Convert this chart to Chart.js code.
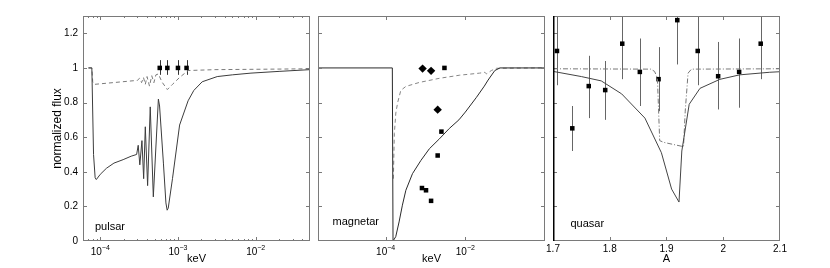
<!DOCTYPE html>
<html><head><meta charset="utf-8">
<script src="https://cdn.jsdelivr.net/npm/chart.js@4/dist/chart.umd.min.js"></script>
<style>
html,body{margin:0;padding:0;background:#fff;width:830px;height:268px;overflow:hidden}
canvas{position:absolute;top:0}
</style></head><body>
<canvas id="c1" width="316" height="268" style="left:0px"></canvas>
<canvas id="c2" width="240" height="268" style="left:312px"></canvas>
<canvas id="c3" width="290" height="268" style="left:540px"></canvas>
<script>
// ---------- data ----------
const fluxTicks = [0, 0.2, 0.4, 0.6, 0.8, 1, 1.2];
const fluxTickLabels = ['0', '0.2', '0.4', '0.6', '0.8', '1', '1.2'];

// pulsar
const pulsarTickValues = [1e-4, 1e-3, 1e-2];
const pulsarTickBase = ['10', '10', '10'];
const pulsarTickExp = ['−4', '−3', '−2'];
const pulsarSolidE = [7.05e-5, 7.8e-5, 8.2e-5, 8.6e-5, 8.9e-5, 1.0e-4, 1.2e-4, 1.5e-4, 1.97e-4, 2.5e-4, 2.94e-4, 3.08e-4, 3.23e-4, 3.44e-4, 3.62e-4, 3.80e-4, 4.07e-4, 4.40e-4, 4.82e-4, 5.6e-4, 5.8e-4, 6.5e-4, 7.0e-4, 7.26e-4, 7.5e-4, 8.5e-4, 1.05e-3, 1.35e-3, 1.6e-3, 2.05e-3, 3.2e-3, 5e-3, 8.7e-3, 2e-2, 5e-2];
const pulsarSolidF = [1.0, 1.0, 0.5, 0.365, 0.355, 0.385, 0.42, 0.45, 0.47, 0.49, 0.50, 0.553, 0.44, 0.58, 0.36, 0.66, 0.32, 0.775, 0.255, 0.82, 0.78, 0.45, 0.22, 0.178, 0.19, 0.36, 0.67, 0.81, 0.87, 0.92, 0.95, 0.96, 0.97, 0.98, 0.99];
const pulsarDashE = [7.05e-5, 7.8e-5, 8.0e-5, 8.4e-5, 3.0e-4, 3.2e-4, 3.4e-4, 3.6e-4, 3.8e-4, 4.0e-4, 4.3e-4, 4.6e-4, 4.9e-4, 5.2e-4, 5.6e-4, 6.2e-4, 7.3e-4, 8.5e-4, 1.05e-3, 1.35e-3, 3e-3, 5e-2];
const pulsarDashF = [1.0, 1.0, 0.92, 0.905, 0.928, 0.94, 0.915, 0.945, 0.905, 0.95, 0.895, 0.955, 0.915, 0.96, 0.965, 0.92, 0.875, 0.905, 0.945, 0.985, 0.99, 0.995];
const pulsarObsE = [5.83e-4, 7.3e-4, 1.0e-3, 1.29e-3];
const pulsarObsF = [1, 1, 1, 1];
const pulsarObsLo = [0.96, 0.96, 0.96, 0.96];
const pulsarObsHi = [1.045, 1.045, 1.045, 1.045];

// magnetar
const magnetarTickValues = [1e-4, 1e-2];
const magnetarTickBase = ['10', '10'];
const magnetarTickExp = ['−4', '−2'];
const magnetarSolidE = [2e-6, 1.47e-4, 1.53e-4, 1.79e-4, 2.17e-4, 2.63e-4, 3.21e-4, 4.71e-4, 7.69e-4, 1.25e-3, 2.23e-3, 3.95e-3, 6.9e-3, 1.0e-2, 1.9e-2, 3.0e-2, 3.73e-2, 5.5e-2, 7.4e-2, 1];
const magnetarSolidF = [1, 1, 0, 0.025, 0.11, 0.207, 0.293, 0.389, 0.466, 0.533, 0.59, 0.65, 0.70, 0.745, 0.83, 0.895, 0.93, 0.985, 1.0, 1.0];
const magnetarDashE = [1.56e-4, 1.65e-4, 1.8e-4, 2.0e-4, 2.4e-4, 3.2e-4, 6.97e-4, 2.23e-3, 7.2e-3, 2.3e-2, 3.1e-2, 3.4e-2, 4.5e-2, 6.1e-2, 1];
const magnetarDashF = [0.36, 0.62, 0.74, 0.80, 0.87, 0.893, 0.916, 0.94, 0.958, 0.97, 0.975, 0.965, 0.985, 0.998, 1.0];
const magnetarDiamondE = [8.45e-4, 1.38e-3, 2.02e-3];
const magnetarDiamondF = [0.996, 0.983, 0.759];
const magnetarSquareE = [2.99e-3, 2.51e-3, 2.02e-3, 8.15e-4, 1.03e-3, 1.38e-3];
const magnetarSquareF = [1.0, 0.632, 0.494, 0.306, 0.293, 0.232];

// quasar
const quasarTickValues = [1.7, 1.8, 1.9, 2.0, 2.1];
const quasarTickLabels = ['1.7', '1.8', '1.9', '2', '2.1'];
const quasarSolidA = [1.70, 1.75, 1.785, 1.821, 1.862, 1.891, 1.909, 1.922, 1.927, 1.94, 1.959, 1.994, 2.029, 2.082, 2.10];
const quasarSolidF = [0.98, 0.95, 0.925, 0.85, 0.71, 0.51, 0.30, 0.225, 0.52, 0.79, 0.882, 0.934, 0.96, 0.975, 0.978];
const quasarDashA = [1.70, 1.872, 1.879, 1.884, 1.888, 1.895, 1.93, 1.933, 1.938, 1.944, 2.10];
const quasarDashF = [0.995, 0.993, 0.98, 0.94, 0.58, 0.57, 0.545, 0.75, 0.97, 0.993, 0.995];
const quasarObsA = [1.707, 1.734, 1.763, 1.792, 1.822, 1.853, 1.886, 1.919, 1.955, 1.991, 2.028, 2.066];
const quasarObsF = [1.098, 0.651, 0.895, 0.872, 1.14, 0.977, 0.935, 1.276, 1.098, 0.952, 0.977, 1.14];
const quasarObsLo = [0.90, 0.52, 0.71, 0.70, 0.935, 0.78, 0.75, 1.02, 0.90, 0.76, 0.77, 0.935];
const quasarObsHi = [1.30, 0.78, 1.07, 1.04, 1.35, 1.17, 1.12, 1.53, 1.30, 1.15, 1.17, 1.35];

// ---------- helpers ----------
const FONT = "'Liberation Sans', Arial, sans-serif";
const xy = (xs, ys) => xs.map((v, i) => ({x: v, y: ys[i]}));

function logTicks(min, max, majors, withMinor) {
  const out = [];
  for (let e = Math.floor(Math.log10(min)); e <= Math.ceil(Math.log10(max)); e++) {
    for (let m = 1; m <= 9; m++) {
      const v = m * Math.pow(10, e);
      if (v < min * 0.999 || v > max * 1.001) continue;
      const isMajor = majors.some(t => Math.abs(t - v) / t < 1e-6);
      if (isMajor || (withMinor && m > 1)) out.push({value: v, major: isMajor});
    }
  }
  return out;
}
function labelFor(values, labels, v) {
  for (let i = 0; i < values.length; i++) if (Math.abs(values[i] - v) <= Math.abs(values[i]) * 1e-6 + 1e-9) return labels[i];
  return '';
}

const framePlugin = {
  id: 'frame',
  afterDatasetsDraw(chart, args, o) {
    const {ctx, chartArea: a} = chart;
    const x = chart.scales.x, y = chart.scales.y;
    ctx.save();
    ctx.strokeStyle = '#7a7a7a';
    ctx.lineWidth = 1;
    ctx.beginPath();
    x.ticks.forEach(t => {
      const px = Math.round(x.getPixelForValue(t.value)) + 0.5;
      if (px < a.left + 1 || px > a.right - 1) return;
      const len = (t.major === false) ? 2 : 4;
      ctx.moveTo(px, a.bottom); ctx.lineTo(px, a.bottom - len);
      ctx.moveTo(px, a.top); ctx.lineTo(px, a.top + len);
    });
    y.ticks.forEach(t => {
      const py = Math.round(y.getPixelForValue(t.value)) + 0.5;
      if (py < a.top + 1 || py > a.bottom - 1) return;
      ctx.moveTo(a.left, py); ctx.lineTo(a.left + 4, py);
      ctx.moveTo(a.right, py); ctx.lineTo(a.right - 4, py);
    });
    ctx.stroke();
    ctx.strokeRect(a.left + 0.5, a.top + 0.5, a.width - 1, a.height - 1);
    if (o.blackLeft) {
      ctx.strokeStyle = '#000';
      ctx.lineWidth = 1.5;
      ctx.beginPath(); ctx.moveTo(a.left + 0.75, a.top); ctx.lineTo(a.left + 0.75, a.bottom); ctx.stroke();
    }
    ctx.fillStyle = '#000';
    // power-of-ten tick labels (base + superscript exponent)
    if (o.supValues) {
      o.supValues.forEach((v, i) => {
        const px = x.getPixelForValue(v);
        ctx.font = '10px ' + FONT;
        const wb = ctx.measureText(o.supBase[i]).width;
        ctx.font = '7px ' + FONT;
        const we = ctx.measureText(o.supExp[i]).width;
        const left = px - (wb + we) / 2;
        ctx.textAlign = 'left';
        ctx.textBaseline = 'alphabetic';
        ctx.font = '10px ' + FONT;
        ctx.fillText(o.supBase[i], left, a.bottom + 14);
        ctx.font = '7px ' + FONT;
        ctx.fillText(o.supExp[i], left + wb, a.bottom + 8.5);
      });
    }
    // panel label
    ctx.font = '11px ' + FONT;
    ctx.textBaseline = 'alphabetic';
    ctx.textAlign = 'left';
    ctx.fillText(o.label, a.left + o.dx, a.bottom - o.dy);
    ctx.restore();
  }
};

const errPlugin = {
  id: 'errbars',
  beforeDatasetsDraw(chart, args, o) {
    if (!o.xs) return;
    const {ctx, chartArea: a} = chart;
    const x = chart.scales.x, y = chart.scales.y;
    ctx.save();
    ctx.beginPath(); ctx.rect(a.left, a.top, a.width, a.height); ctx.clip();
    ctx.strokeStyle = o.color; ctx.lineWidth = 1;
    ctx.beginPath();
    o.xs.forEach((v, i) => {
      const px = Math.round(x.getPixelForValue(v)) + 0.5;
      ctx.moveTo(px, y.getPixelForValue(o.lo[i]));
      ctx.lineTo(px, y.getPixelForValue(o.hi[i]));
    });
    ctx.stroke();
    ctx.restore();
  }
};

function yScale(width, showLabels) {
  return {
    type: 'linear', min: 0, max: 1.3,
    grid: {display: false, drawTicks: false, tickLength: 0},
    border: {display: false},
    afterBuildTicks: s => { s.ticks = fluxTicks.map(v => ({value: v})); },
    ticks: {display: showLabels, padding: 5, color: '#000', font: {family: FONT, size: 10},
      callback: v => labelFor(fluxTicks, fluxTickLabels, v)},
    title: showLabels ? {display: true, text: 'normalized flux', color: '#000', font: {family: FONT, size: 12}, padding: {top: 50.8, bottom: 0}} : {display: false},
    afterFit: s => { s.width = width; s.paddingTop = 0; s.paddingBottom = 0; }
  };
}
function xScaleBase(title) {
  return {
    grid: {display: false, drawTicks: false, tickLength: 0},
    border: {display: false},
    title: {display: true, text: title, color: '#000', font: {family: FONT, size: 11}, padding: {top: 0, bottom: 2.8}},
    afterFit: s => { s.height = 27; s.paddingLeft = 0; s.paddingRight = 0; }
  };
}
function lineDS(data, color, dash, width) {
  return {data, borderColor: color, borderWidth: width || 1, borderDash: dash || [], pointRadius: 0, tension: 0, fill: false};
}
function pointDS(data, style, r) {
  return {data, showLine: false, pointStyle: style, pointRadius: r, pointBackgroundColor: '#000', pointBorderColor: '#000', pointBorderWidth: 0};
}
const common = {responsive: false, animation: false, devicePixelRatio: 1, events: []};

// ---------- pulsar ----------
{
  const xs = Object.assign(xScaleBase('keV'), {
    type: 'logarithmic', min: 6e-5, max: 5e-2,
    afterBuildTicks: s => { s.ticks = logTicks(6e-5, 5e-2, pulsarTickValues, true); },
    ticks: {display: false, autoSkip: false, maxRotation: 0}
  });
  new Chart(document.getElementById('c1'), {
    type: 'line',
    data: {datasets: [
      lineDS(xy(pulsarSolidE, pulsarSolidF), '#3c3c3c'),
      lineDS(xy(pulsarDashE, pulsarDashF), '#7a7a7a', [4, 3]),
      pointDS(xy(pulsarObsE, pulsarObsF), 'rect', 3.2)
    ]},
    options: Object.assign({}, common, {
      layout: {padding: {left: 0, right: 6, top: 16, bottom: 0}},
      scales: {x: xs, y: yScale(83, true)},
      plugins: {legend: {display: false}, tooltip: {enabled: false},
        frame: {label: 'pulsar', dx: 12, dy: 11, supValues: pulsarTickValues, supBase: pulsarTickBase, supExp: pulsarTickExp},
        errbars: {xs: pulsarObsE, lo: pulsarObsLo, hi: pulsarObsHi, color: '#333'}}
    }),
    plugins: [errPlugin, framePlugin]
  });
}

// ---------- magnetar ----------
{
  const xs = Object.assign(xScaleBase('keV'), {
    type: 'logarithmic', min: 2e-6, max: 1,
    afterBuildTicks: s => { s.ticks = logTicks(2e-6, 1, magnetarTickValues, false); },
    ticks: {display: false, autoSkip: false, maxRotation: 0}
  });
  new Chart(document.getElementById('c2'), {
    type: 'line',
    data: {datasets: [
      lineDS(xy(magnetarSolidE, magnetarSolidF), '#2a2a2a'),
      lineDS(xy(magnetarDashE, magnetarDashF), '#858585', [4, 3]),
      pointDS(xy(magnetarDiamondE, magnetarDiamondF), 'rectRot', 4.2),
      pointDS(xy(magnetarSquareE, magnetarSquareF), 'rect', 3.2)
    ]},
    options: Object.assign({}, common, {
      layout: {padding: {left: 6, right: 7, top: 16, bottom: 0}},
      scales: {x: xs, y: yScale(0, false)},
      plugins: {legend: {display: false}, tooltip: {enabled: false},
        frame: {label: 'magnetar', dx: 14.5, dy: 16, supValues: magnetarTickValues, supBase: magnetarTickBase, supExp: magnetarTickExp},
        errbars: {}}
    }),
    plugins: [errPlugin, framePlugin]
  });
}

// ---------- quasar ----------
{
  const xs = Object.assign(xScaleBase('A'), {
    type: 'linear', min: 1.7, max: 2.1,
    afterBuildTicks: s => { s.ticks = quasarTickValues.map(v => ({value: v})); },
    ticks: {autoSkip: false, maxRotation: 0, padding: 2, color: '#000', font: {family: FONT, size: 10},
      callback: v => labelFor(quasarTickValues, quasarTickLabels, v)}
  });
  new Chart(document.getElementById('c3'), {
    type: 'line',
    data: {datasets: [
      lineDS(xy(quasarSolidA, quasarSolidF), '#444'),
      lineDS(xy(quasarDashA, quasarDashF), '#777', [5, 2, 1, 2]),
      pointDS(xy(quasarObsA, quasarObsF), 'rect', 3.2)
    ]},
    options: Object.assign({}, common, {
      layout: {padding: {left: 13, right: 50, top: 16, bottom: 0}},
      scales: {x: xs, y: yScale(0, false)},
      plugins: {legend: {display: false}, tooltip: {enabled: false},
        frame: {label: 'quasar', dx: 17.5, dy: 14.5, blackLeft: true},
        errbars: {xs: quasarObsA, lo: quasarObsLo, hi: quasarObsHi, color: '#666'}}
    }),
    plugins: [errPlugin, framePlugin]
  });
}
</script>
</body></html>
